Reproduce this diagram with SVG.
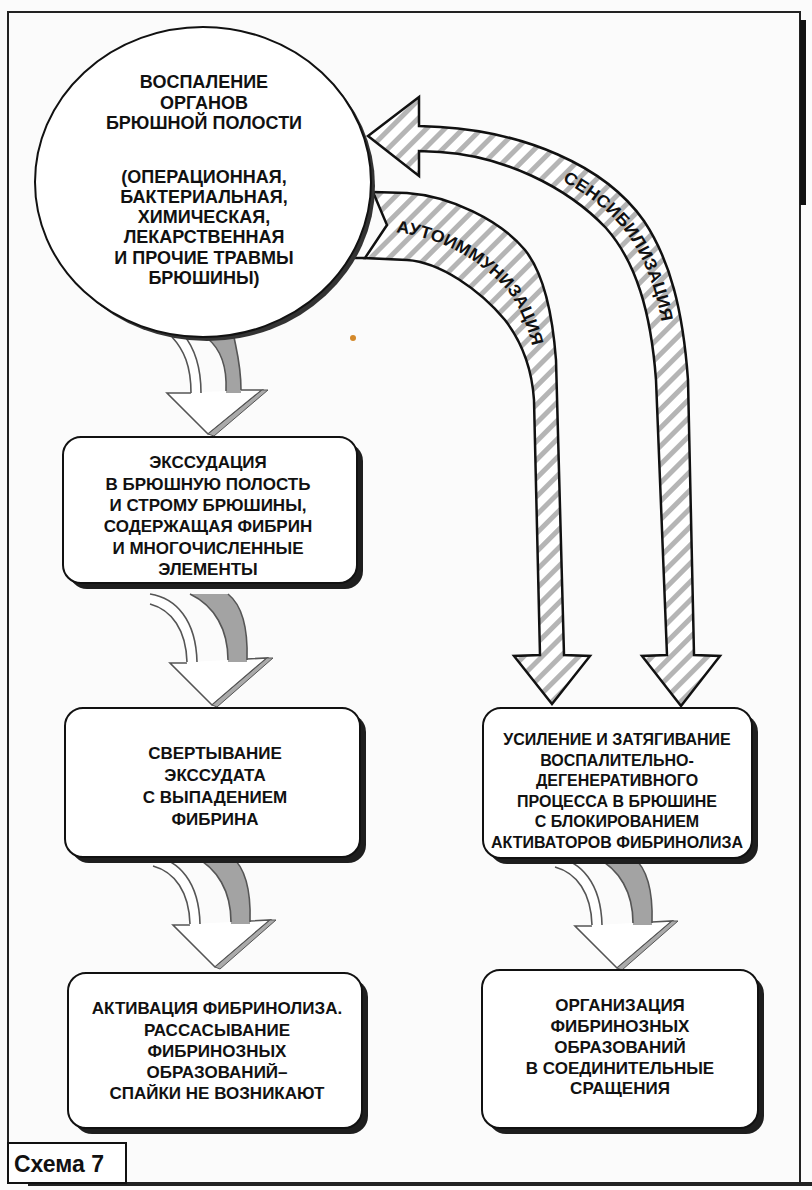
<svg xmlns="http://www.w3.org/2000/svg" width="812" height="1190" viewBox="0 0 812 1190">
<defs>
<pattern id="hatch" width="13" height="13" patternUnits="userSpaceOnUse" patternTransform="rotate(45)">
<rect width="13" height="13" fill="#fff"/>
<rect width="5" height="13" fill="#b5b5b5"/>
</pattern>
<style>
.t{font-family:"Liberation Sans",Arial,sans-serif;font-weight:bold;font-size:17px;text-anchor:middle;fill:#111}
.t16{font-size:16px}
.t18{font-size:18px}
.lbl{font-family:"Liberation Sans",Arial,sans-serif;font-weight:bold;font-size:17px;fill:#111}
.box{fill:#fff;stroke:#111;stroke-width:2}
.sh{fill:#1e1e1e}
.band{fill:url(#hatch);stroke:#111;stroke-width:2.5;stroke-linejoin:miter}
.wf{fill:#fff}
.gf{fill:#a3a3a3}
.e3{fill:none;stroke:#555;stroke-width:1.6}
.bev{fill:#aaa;stroke:#555;stroke-width:1}
</style>
</defs>
<rect width="812" height="1190" fill="#fbfbfb"/>
<g id="frame">
<rect x="8" y="12" width="792" height="1171" fill="none" stroke="#222" stroke-width="2"/>
<rect x="800" y="20" width="6" height="185" fill="#111"/>
<rect x="28" y="1182" width="784" height="4" fill="#222"/>
</g>

<g id="connectors">
<!-- Sensibilization band -->
<path class="band" d="M419,126 L440,127 C522,132 604,164 644,221 C670,260 683,310 688,380 L694,655 L720,656 L681,706 L642,656 L667,655 L656,380 C651,312 636,262 606,228 C566,186 503,156 440,152 L419,151 L419,176 L368,136 L419,97 Z"/>
<!-- Autoimmunization band -->
<path class="band" d="M373,192 L407,193 C450,196 500,220 525,250 C545,275 553,320 556,360 L564,655 L590,656 L552,704 L514,656 L540,655 L534,400 C532,370 522,342 505,320 C480,290 440,262 407,260 L365,258 L387,225 Z"/>
<path d="M345,258 L366,258" stroke="#111" stroke-width="2.5"/>
<path id="pSens" d="M440,146 C510,151 580,180 621,226 C650,261 664,311 669,380" fill="none"/>
<path id="pAuto" d="M390,232 C440,235 482,262 507,290 C524,312 535,345 537,380" fill="none"/>
<text class="lbl"><textPath href="#pSens" startOffset="128" textLength="180" lengthAdjust="spacingAndGlyphs">СЕНСИБИЛИЗАЦИЯ</textPath></text>
<text class="lbl"><textPath href="#pAuto" startOffset="6" textLength="190" lengthAdjust="spacingAndGlyphs">АУТОИММУНИЗАЦИЯ</textPath></text>

<!-- Arrow A: circle -> box1 -->
<g id="arrowA">
<polygon class="wf" points="167,393 262,390 208,434"/>
<path class="e3" d="M191,393 L167,393 L208,434 L262,390 L241,390"/>
<polygon class="bev" points="262,390 268,390 214,436 208,434"/>
<path class="wf" d="M172,337 C184,350 191,366 191,396 L201,396 C201,364 193,346 183,334 Z"/>
<path class="e3" d="M172,337 C184,350 191,366 191,393 M183,334 C193,346 201,364 201,393"/>
<path class="gf" d="M207,338 C222,350 227,370 226,393 L241,393 C241,365 236,348 234,337 Z"/>
<path class="e3" d="M207,338 C222,350 227,370 226,391 M234,337 C236,348 241,365 241,390"/>
</g>
<!-- Arrow B: box1 -> box2 -->
<g id="arrowB">
<polygon class="wf" points="170,663 267,658 212,705"/>
<path class="e3" d="M187,663 L170,663 L212,705 L267,658 L247,659"/>
<polygon class="bev" points="267,658 273,658 217,707 212,705"/>
<path class="wf" d="M150,594 C176,598 196,620 197,664 L187,664 C186,630 172,610 150,604 Z"/>
<path class="e3" d="M150,594 C176,598 196,620 197,662 M150,604 C172,610 186,630 187,662"/>
<path class="gf" d="M190,594 L228,594 C243,606 248,630 247,662 L228,662 C228,630 215,606 190,594 Z"/>
<path class="e3" d="M190,594 C215,606 228,630 228,660 M228,594 C243,606 248,630 247,660"/>
</g>
<!-- Arrow C: box2 -> box3 -->
<g id="arrowC" transform="translate(3,262)">
<polygon class="wf" points="170,663 267,658 212,705"/>
<path class="e3" d="M187,663 L170,663 L212,705 L267,658 L247,659"/>
<polygon class="bev" points="267,658 273,658 217,707 212,705"/>
<path class="wf" d="M150,594 C176,598 196,620 197,664 L187,664 C186,630 172,610 150,604 Z"/>
<path class="e3" d="M150,594 C176,598 196,620 197,662 M150,604 C172,610 186,630 187,662"/>
<path class="gf" d="M190,594 L228,594 C243,606 248,630 247,662 L228,662 C228,630 215,606 190,594 Z"/>
<path class="e3" d="M190,594 C215,606 228,630 228,660 M228,594 C243,606 248,630 247,660"/>
</g>
<!-- Arrow D: box4 -> box5 -->
<g id="arrowD" transform="translate(405,263)">
<polygon class="wf" points="170,663 267,658 212,705"/>
<path class="e3" d="M187,663 L170,663 L212,705 L267,658 L247,659"/>
<polygon class="bev" points="267,658 273,658 217,707 212,705"/>
<path class="wf" d="M150,594 C176,598 196,620 197,664 L187,664 C186,630 172,610 150,604 Z"/>
<path class="e3" d="M150,594 C176,598 196,620 197,662 M150,604 C172,610 186,630 187,662"/>
<path class="gf" d="M190,594 L228,594 C243,606 248,630 247,662 L228,662 C228,630 215,606 190,594 Z"/>
<path class="e3" d="M190,594 C215,606 228,630 228,660 M228,594 C243,606 248,630 247,660"/>
</g>
</g>

<g id="node-inflammation">
<ellipse cx="207" cy="186" rx="168" ry="155" fill="#333"/>
<ellipse cx="203" cy="182" rx="168" ry="155" fill="#fff" stroke="#111" stroke-width="2"/>
<text class="t t18" x="204" y="88">ВОСПАЛЕНИЕ</text>
<text class="t t18" x="204" y="109">ОРГАНОВ</text>
<text class="t t18" x="204" y="129">БРЮШНОЙ ПОЛОСТИ</text>
<text class="t t18" x="204" y="183">(ОПЕРАЦИОННАЯ,</text>
<text class="t t18" x="204" y="203">БАКТЕРИАЛЬНАЯ,</text>
<text class="t t18" x="204" y="223">ХИМИЧЕСКАЯ,</text>
<text class="t t18" x="204" y="243">ЛЕКАРСТВЕННАЯ</text>
<text class="t t18" x="204" y="264">И ПРОЧИЕ ТРАВМЫ</text>
<text class="t t18" x="204" y="284">БРЮШИНЫ)</text>
</g>
<circle cx="353" cy="338" r="3" fill="#d4892a"/>

<g id="node-exudation">
<rect class="sh" x="69" y="443" width="294" height="146" rx="18"/>
<rect class="box" x="63" y="437" width="294" height="146" rx="18"/>
<text class="t" x="208" y="468">ЭКССУДАЦИЯ</text>
<text class="t" x="208" y="490">В БРЮШНУЮ ПОЛОСТЬ</text>
<text class="t" x="208" y="511">И СТРОМУ БРЮШИНЫ,</text>
<text class="t" x="208" y="532">СОДЕРЖАЩАЯ ФИБРИН</text>
<text class="t" x="208" y="554">И МНОГОЧИСЛЕННЫЕ</text>
<text class="t" x="208" y="575">ЭЛЕМЕНТЫ</text>
</g>

<g id="node-coagulation">
<rect class="sh" x="71" y="714" width="295" height="149" rx="18"/>
<rect class="box" x="65" y="708" width="295" height="149" rx="18"/>
<text class="t" x="215" y="759">СВЕРТЫВАНИЕ</text>
<text class="t" x="215" y="781">ЭКССУДАТА</text>
<text class="t" x="215" y="803">С ВЫПАДЕНИЕМ</text>
<text class="t" x="215" y="825">ФИБРИНА</text>
</g>

<g id="node-fibrinolysis">
<rect class="sh" x="74" y="979" width="294" height="155" rx="18"/>
<rect class="box" x="68" y="973" width="294" height="155" rx="18"/>
<text class="t" x="217" y="1014">АКТИВАЦИЯ ФИБРИНОЛИЗА.</text>
<text class="t" x="217" y="1036">РАССАСЫВАНИЕ</text>
<text class="t" x="217" y="1057">ФИБРИНОЗНЫХ</text>
<text class="t" x="217" y="1078">ОБРАЗОВАНИЙ–</text>
<text class="t" x="217" y="1099">СПАЙКИ НЕ ВОЗНИКАЮТ</text>
</g>

<g id="node-intensification">
<rect class="sh" x="489" y="714" width="269" height="150" rx="18"/>
<rect class="box" x="483" y="708" width="269" height="150" rx="18"/>
<text class="t t16" x="617" y="745">УСИЛЕНИЕ И ЗАТЯГИВАНИЕ</text>
<text class="t t16" x="617" y="766">ВОСПАЛИТЕЛЬНО-</text>
<text class="t t16" x="617" y="786">ДЕГЕНЕРАТИВНОГО</text>
<text class="t t16" x="617" y="807">ПРОЦЕССА В БРЮШИНЕ</text>
<text class="t t16" x="617" y="827">С БЛОКИРОВАНИЕМ</text>
<text class="t t16" x="617" y="848">АКТИВАТОРОВ ФИБРИНОЛИЗА</text>
</g>

<g id="node-organization">
<rect class="sh" x="488" y="976" width="276" height="158" rx="18"/>
<rect class="box" x="482" y="970" width="276" height="158" rx="18"/>
<text class="t" x="620" y="1011">ОРГАНИЗАЦИЯ</text>
<text class="t" x="620" y="1032">ФИБРИНОЗНЫХ</text>
<text class="t" x="620" y="1053">ОБРАЗОВАНИЙ</text>
<text class="t" x="620" y="1074">В СОЕДИНИТЕЛЬНЫЕ</text>
<text class="t" x="620" y="1094">СРАЩЕНИЯ</text>
</g>

<g id="caption">
<rect x="8" y="1143" width="118" height="40" fill="#fff" stroke="#111" stroke-width="2"/>
<text x="14" y="1172" font-family="Liberation Sans, Arial, sans-serif" font-weight="bold" font-size="23" fill="#111">Схема 7</text>
</g>
</svg>
